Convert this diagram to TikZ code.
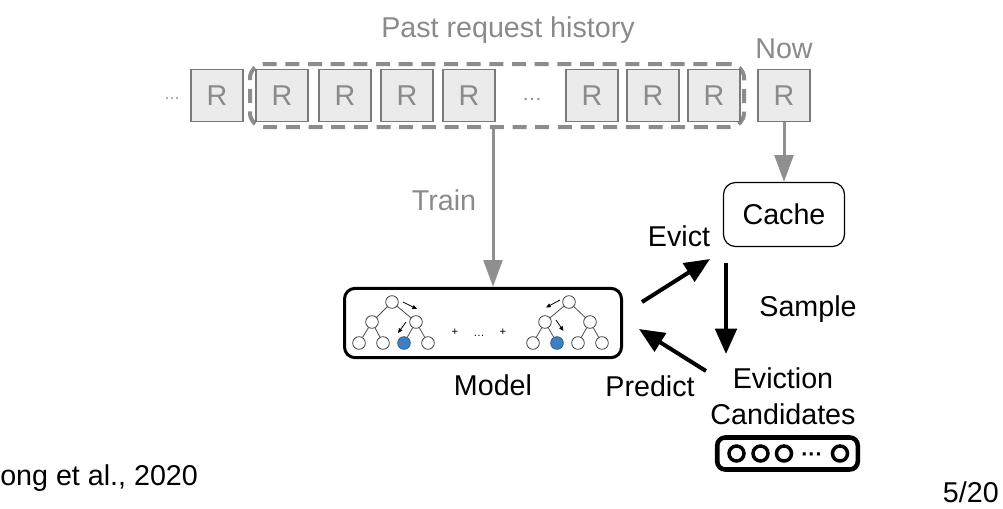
\documentclass[tikz,border=0pt]{standalone}
\usepackage{fontspec}
\setmainfont{Liberation Sans}
\usetikzlibrary{arrows.meta,calc}
\definecolor{boxfill}{HTML}{EBEBEB}
\definecolor{boxline}{HTML}{7A7A7A}
\definecolor{rtext}{HTML}{8A8A8A}
\definecolor{dashc}{HTML}{8C8C8C}
\definecolor{arrgray}{HTML}{8F8F8F}
\definecolor{leafblue}{HTML}{3D7FC1}
\definecolor{leafedge}{HTML}{2E5E8E}
\newcommand\myfont{\fontsize{21.5pt}{24pt}\selectfont}
\begin{document}
\begin{tikzpicture}[x=0.75pt,y=-0.75pt,
  lbl/.style={inner sep=0pt, font=\myfont},
  glbl/.style={lbl, text=rtext},
  rbox/.style={draw=boxline, line width=0.8pt, fill=boxfill, minimum width=39pt, minimum height=39pt, inner sep=0pt, font=\myfont, text=rtext},
  garrow/.style={draw=arrgray, line width=2.25pt, -{Triangle[length=20pt,width=14pt]}},
  barrow/.style={draw=black, line width=3pt, -{Triangle[length=19pt,width=16pt]}},
  tnode/.style={circle, draw=black!75, line width=0.6pt, fill=white, minimum size=9.5pt, inner sep=0pt},
  bnode/.style={tnode, fill=leafblue, draw=leafedge},
  tedge/.style={draw=black!70, line width=0.6pt},
  tarrow/.style={draw=black, line width=0.6pt, -{Triangle[length=3.5pt,width=3pt]}},
  cnode/.style={circle, draw=black, line width=2.6pt, minimum size=11.25pt, inner sep=0pt},
  small/.style={inner sep=0pt, font=\fontsize{8.5pt}{9pt}\selectfont}
]
\useasboundingbox (0,0) rectangle (1003,508);

% past request history
\node[glbl, anchor=base] (pasttitle) at (508,37) {Past request history};
\node[glbl, anchor=base] (nowlbl) at (784,58) {Now};
\node[inner sep=0pt, font=\fontsize{12pt}{13pt}\selectfont, text=rtext, anchor=base] (dotsl) at (172,99) {\ldots};
\node[rbox] (b1) at (217,95.5) {R};
\node[draw=dashc, line width=3pt, dash pattern=on 10.5pt off 6.5pt, rounded corners=10.5pt, minimum width=370.5pt, minimum height=47.25pt, inner sep=0pt] (hist) at (497,95.5) {};
\node[rbox] (b2) at (282,95.5) {R};
\node[rbox] (b3) at (345,95.5) {R};
\node[rbox] (b4) at (407,95.5) {R};
\node[rbox] (b5) at (469,95.5) {R};
\node[inner sep=0pt, font=\fontsize{15pt}{16pt}\selectfont, text=rtext, anchor=base] (dotsm) at (532,100) {\ldots};
\node[rbox] (b6) at (592,95.5) {R};
\node[rbox] (b7) at (653,95.5) {R};
\node[rbox] (b8) at (714,95.5) {R};
\node[rbox] (now) at (784,95.5) {R};

% cache
\node[draw=black, line width=0.9pt, rounded corners=9pt, minimum width=90.75pt, minimum height=48pt, inner sep=0pt, font=\myfont] (cache) at (784,214.5) {Cache};

% model box
\node[draw=black, line width=2.25pt, rounded corners=8pt, minimum width=207.75pt, minimum height=52pt, inner sep=0pt] (model) at (483,323) {};
\node[lbl, anchor=base] (modellbl) at (493,395) {Model};
\node[glbl] (trainlbl) at (444,200) {Train};

% left tree
\node[tnode] (lr) at (392,302) {};
\node[tnode] (la) at (372,322) {};
\node[tnode] (lb) at (416,322) {};
\node[tnode] (l1) at (359,343) {};
\node[tnode] (l2) at (383,343) {};
\node[bnode] (l3) at (404,343) {};
\node[tnode] (l4) at (428,343) {};
\draw[tedge] (lr) -- (la) (lr) -- (lb) (la) -- (l1) (la) -- (l2) (lb) -- (l3) (lb) -- (l4);
\coordinate (lta1) at (403,302); \coordinate (lta2) at (417,309);
\coordinate (ltb1) at (406,322); \coordinate (ltb2) at (398,333);
\draw[tarrow] (lta1) -- (lta2);
\draw[tarrow] (ltb1) -- (ltb2);

\node[small] (plus1) at (455,332) {+};
\node[small, anchor=base] (mdots) at (479,336) {\ldots};
\node[small] (plus2) at (503,332) {+};

% right tree
\node[tnode] (rr) at (569,302) {};
\node[tnode] (ra) at (545,322) {};
\node[tnode] (rb) at (590,322) {};
\node[tnode] (r1) at (533,343) {};
\node[bnode] (r2) at (557,343) {};
\node[tnode] (r3) at (578,343) {};
\node[tnode] (r4) at (602,343) {};
\draw[tedge] (rr) -- (ra) (rr) -- (rb) (ra) -- (r1) (ra) -- (r2) (rb) -- (r3) (rb) -- (r4);
\coordinate (rta1) at (560,300); \coordinate (rta2) at (546,307.5);
\coordinate (rtb1) at (556,320); \coordinate (rtb2) at (563.5,331);
\draw[tarrow] (rta1) -- (rta2);
\draw[tarrow] (rtb1) -- (rtb2);

% gray arrows
\draw[garrow] (hist.south -| 493,0) -- (model.north -| 493,0);
\draw[garrow] (now.south) -- (cache.north -| now.south);

% eviction candidates
\node[lbl, anchor=base] (evlbl) at (783,388) {Eviction};
\node[lbl, anchor=base] (candlbl) at (783,424) {Candidates};
\node[draw=black, line width=3.4pt, rounded corners=6pt, minimum width=105.4pt, minimum height=24pt, inner sep=0pt] (cand) at (787.5,453.5) {};
\node[cnode] (c1) at (736.5,453.5) {};
\node[cnode] (c2) at (760.5,453.5) {};
\node[cnode] (c3) at (784,453.5) {};
\node[inner sep=0pt, font=\bfseries\fontsize{16pt}{17pt}\selectfont, anchor=base] (cdots) at (812,461) {···};
\node[cnode] (c4) at (840,453.5) {};

% black arrows and labels
\coordinate (evs) at (642,302); \coordinate (eve) at (710,259);
\coordinate (sas) at (726,263); \coordinate (sae) at (726,354);
\coordinate (prs) at (706,371); \coordinate (pre) at (639,329);
\draw[barrow] (evs) -- (eve);
\draw[barrow] (sas) -- (sae);
\draw[barrow] (prs) -- (pre);
\node[lbl] (evictlbl) at (679,236) {Evict};
\node[lbl, anchor=base] (samplbl) at (808,316) {Sample};
\node[lbl, anchor=base] (predlbl) at (650,396) {Predict};

% footer
\node[lbl, anchor=base west] (cite) at (0,485) {ong et al., 2020};
\node[lbl, anchor=base east] (page) at (999,502) {5/20};
\end{tikzpicture}
\end{document}
